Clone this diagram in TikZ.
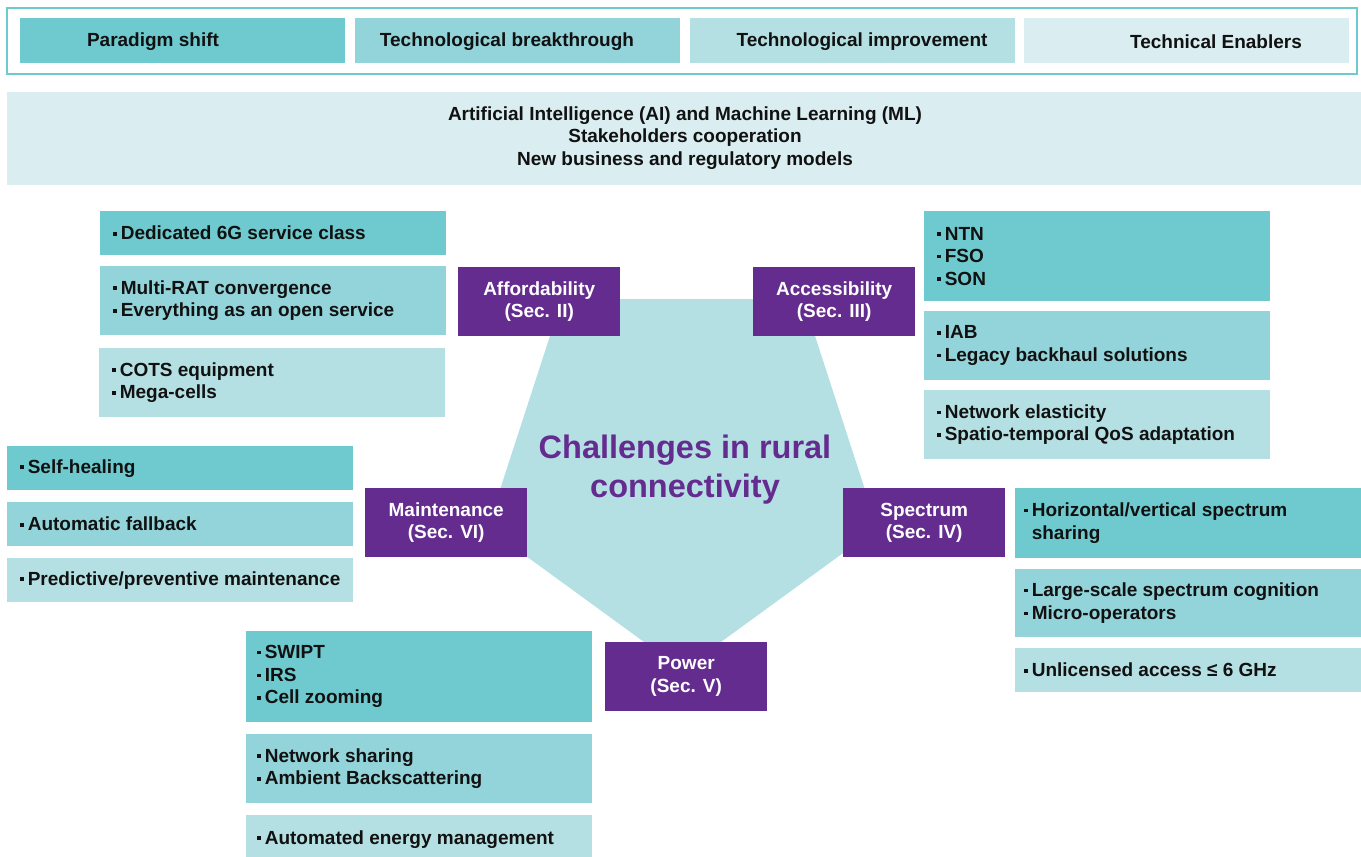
\documentclass[tikz,border=0pt]{standalone}
\usepackage{fontspec}
\setmainfont{Liberation Sans}
\definecolor{tA}{HTML}{6ECACF}
\definecolor{tB}{HTML}{93D4DA}
\definecolor{tC}{HTML}{B5E0E3}
\definecolor{tD}{HTML}{DAEEF1}
\definecolor{purp}{HTML}{652C8F}
\definecolor{ink}{HTML}{111111}
\newcommand\bul{\rule[0.23em]{0.18em}{0.18em}\hspace{0.22em}}
\newcommand\bodyfont{\fontsize{19}{22.6}\selectfont\bfseries}
\tikzset{
  box/.style={rectangle, anchor=north west, inner sep=0pt, minimum width=346pt},
  txt/.style={anchor=west, inner sep=0pt, align=left, font=\bodyfont, text=ink},
  lab/.style={rectangle, anchor=north west, fill=purp, text=white, align=center,
    minimum width=162pt, minimum height=69pt, inner sep=0pt, font=\bodyfont},
  leg/.style={rectangle, anchor=north west, minimum width=325pt, minimum height=45pt, inner sep=0pt},
  legtext/.style={font=\bodyfont, text=ink},
}
\begin{document}
\begin{tikzpicture}[x=1pt,y=-1pt]
\useasboundingbox (0,0) rectangle (1361,857);
% legend
\draw[tA, line width=2.5pt] (7,8) rectangle (1357,74);
\node[leg, fill=tA] (l1) at (20,18) {};
\node[leg, fill=tB] (l2) at (355,18) {};
\node[leg, fill=tC] (l3) at (690,18) {};
\node[leg, fill=tD] (l4) at (1024,18) {};
\node[legtext] (lt1) at (153,41.5) {Paradigm shift};
\node[legtext] (lt2) at (507,41.5) {Technological breakthrough};
\node[legtext] (lt3) at (862,41.5) {Technological improvement};
\node[legtext] (lt4) at (1216,41.5) {Technical Enablers};
% banner
\node[rectangle, anchor=north west, fill=tD, minimum width=1354pt, minimum height=93pt, inner sep=0pt] (ban) at (7,92) {};
\node[font=\bodyfont, text=ink, align=center] (bant) at (685,138) {Artificial Intelligence (AI) and Machine Learning (ML)\\Stakeholders cooperation\\New business and regulatory models};
% pentagon
\fill[tC] (562,299) -- (803,299) -- (877.5,528) -- (682.5,670) -- (487.5,528) -- cycle;
\node[font=\fontsize{32.5}{39}\selectfont\bfseries, text=purp, align=center] (title) at (685,469.5) {Challenges in rural\\connectivity};
% labels
\node[lab] (aff) at (458,267) {Affordability\\(Sec. II)};
\node[lab] (acc) at (753,267) {Accessibility\\(Sec. III)};
\node[lab] (mai) at (365,488) {Maintenance\\(Sec. VI)};
\node[lab] (spe) at (843,488) {Spectrum\\(Sec. IV)};
\node[lab] (pow) at (605,642) {Power\\(Sec. V)};
% affordability boxes
\node[box, fill=tA, minimum height=44pt] (a1) at (100,211) {};
\node[txt] (a1t) at ([xshift=13pt]a1.west) {\bul Dedicated 6G service class};
\node[box, fill=tB, minimum height=69pt] (a2) at (100,266) {};
\node[txt] (a2t) at ([xshift=13pt]a2.west) {\bul Multi-RAT convergence\\\bul Everything as an open service};
\node[box, fill=tC, minimum height=69pt] (a3) at (99,348) {};
\node[txt] (a3t) at ([xshift=13pt]a3.west) {\bul COTS equipment\\\bul Mega-cells};
% accessibility boxes
\node[box, fill=tA, minimum height=90pt] (b1) at (924,211) {};
\node[txt] (b1t) at ([xshift=13pt]b1.west) {\bul NTN\\\bul FSO\\\bul SON};
\node[box, fill=tB, minimum height=69pt] (b2) at (924,311) {};
\node[txt] (b2t) at ([xshift=13pt]b2.west) {\bul IAB\\\bul Legacy backhaul solutions};
\node[box, fill=tC, minimum height=69pt] (b3) at (924,390) {};
\node[txt] (b3t) at ([xshift=13pt]b3.west) {\bul Network elasticity\\\bul Spatio-temporal QoS adaptation};
% maintenance boxes
\node[box, fill=tA, minimum height=44pt] (m1) at (7,446) {};
\node[txt] (m1t) at ([xshift=13pt]m1.west) {\bul Self-healing};
\node[box, fill=tB, minimum height=44pt] (m2) at (7,502) {};
\node[txt] (m2t) at ([xshift=13pt]m2.west) {\bul Automatic fallback};
\node[box, fill=tC, minimum height=44pt] (m3) at (7,558) {};
\node[txt] (m3t) at ([xshift=13pt]m3.west) {\bul Predictive/preventive maintenance};
% spectrum boxes
\node[box, fill=tA, minimum height=70pt] (s1) at (1015,488) {};
\node[txt] (s1t) at ([xshift=9pt]s1.west) {\bul Horizontal/vertical spectrum\\\phantom{\bul}sharing};
\node[box, fill=tB, minimum height=68pt] (s2) at (1015,569) {};
\node[txt] (s2t) at ([xshift=9pt]s2.west) {\bul Large-scale spectrum cognition\\\bul Micro-operators};
\node[box, fill=tC, minimum height=44pt] (s3) at (1015,648) {};
\node[txt] (s3t) at ([xshift=9pt]s3.west) {\bul Unlicensed access ≤ 6 GHz};
% power boxes
\node[box, fill=tA, minimum height=91pt] (p1) at (246,631) {};
\node[txt] (p1t) at ([xshift=11pt]p1.west) {\bul SWIPT\\\bul IRS\\\bul Cell zooming};
\node[box, fill=tB, minimum height=69pt] (p2) at (246,734) {};
\node[txt] (p2t) at ([xshift=11pt]p2.west) {\bul Network sharing\\\bul Ambient Backscattering};
\node[box, fill=tC, minimum height=46pt] (p3) at (246,815) {};
\node[txt] (p3t) at ([xshift=11pt,yshift=-1pt]p3.west) {\bul Automated energy management};
\end{tikzpicture}
\end{document}
